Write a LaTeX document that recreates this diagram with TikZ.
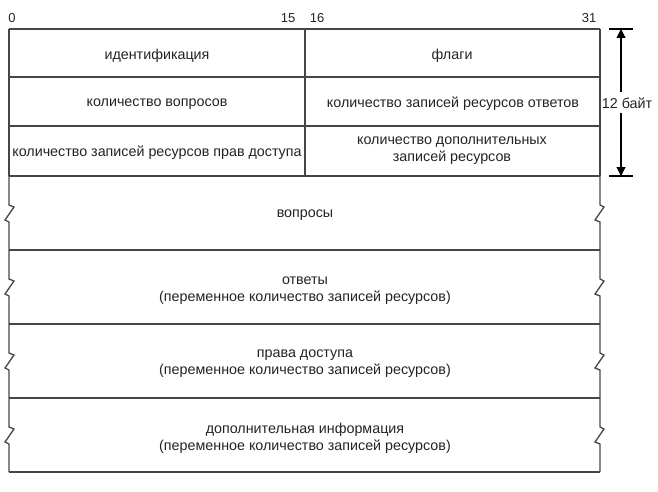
\documentclass[tikz,border=0pt]{standalone}
\usepackage{fontspec}
\setmainfont{Liberation Sans}
\usetikzlibrary{arrows.meta}
\definecolor{ln}{RGB}{70,70,70}
\definecolor{tx}{RGB}{35,35,35}
\tikzset{
  grid/.style={draw=ln, line width=1.3pt},
  field/.style={text=tx, font=\fontsize{14.3}{17}\selectfont, align=center, inner sep=0pt},
  bitnum/.style={text=tx, font=\fontsize{13}{15}\selectfont, inner sep=0pt},
  dimarrow/.style={draw=black, line width=1.1pt, -{Triangle[length=9pt,width=9pt]}},
  tick/.style={draw=black, line width=1.1pt}
}
\begin{document}
\begin{tikzpicture}[x=1pt,y=-1pt]
\useasboundingbox (0,0) rectangle (658,492);
% header rows
\draw[grid] (9,29) -- (600,29);
\draw[grid] (9,77) -- (600,77);
\draw[grid] (9,126) -- (600,126);
\draw[grid] (9,176) -- (600,176);
\draw[grid] (305,29) -- (305,176);
\draw[grid] (9,29) -- (9,176);
\draw[grid] (600,29) -- (600,176);
% variable sections
\foreach \t in {176,250,324,398} {
  \pgfmathsetmacro{\m}{\t+37}
  \draw[grid] (9,\t) -- (9,\m-8) -- (14,\m-6) -- (5,\m+7) -- (9,\m+9) -- (9,\t+74);
  \draw[grid] (600,\t) -- (600,\m-8) -- (604,\m-6) -- (595,\m+7) -- (600,\m+9) -- (600,\t+74);
  \draw[grid] (9,\t+74) -- (600,\t+74);
}
% bit numbers
\node[bitnum] (b0) at (12,18) {0};
\node[bitnum] (b15) at (288,18) {15};
\node[bitnum] (b16) at (317,18) {16};
\node[bitnum] (b31) at (589,18) {31};
% fields
\node[field] (id) at (157,56) {идентификация};
\node[field] (flags) at (452,56) {флаги};
\node[field] (qd) at (157,104) {количество вопросов};
\node[field] (an) at (453,104) {количество записей ресурсов ответов};
\node[field] (ns) at (157,153) {количество записей ресурсов прав доступа};
\node[field] (ar) at (452,151) {количество дополнительных\\записей ресурсов};
\node[field] (q) at (305,215) {вопросы};
\node[field] (ans) at (305,291) {ответы\\(переменное количество записей ресурсов)};
\node[field] (auth) at (305,364) {права доступа\\(переменное количество записей ресурсов)};
\node[field] (add) at (305,438) {дополнительная информация\\(переменное количество записей ресурсов)};
% 12 bytes dimension
\coordinate (dt) at (621,29);
\coordinate (db) at (621,176);
\draw[tick] (609,29) -- (633,29);
\draw[tick] (609,176) -- (633,176);
\node[field, inner sep=2pt] (lbl) at (627,103) {12 байт};
\draw[dimarrow] (621,92) -- (dt);
\draw[dimarrow] (621,113) -- (db);
\end{tikzpicture}
\end{document}
